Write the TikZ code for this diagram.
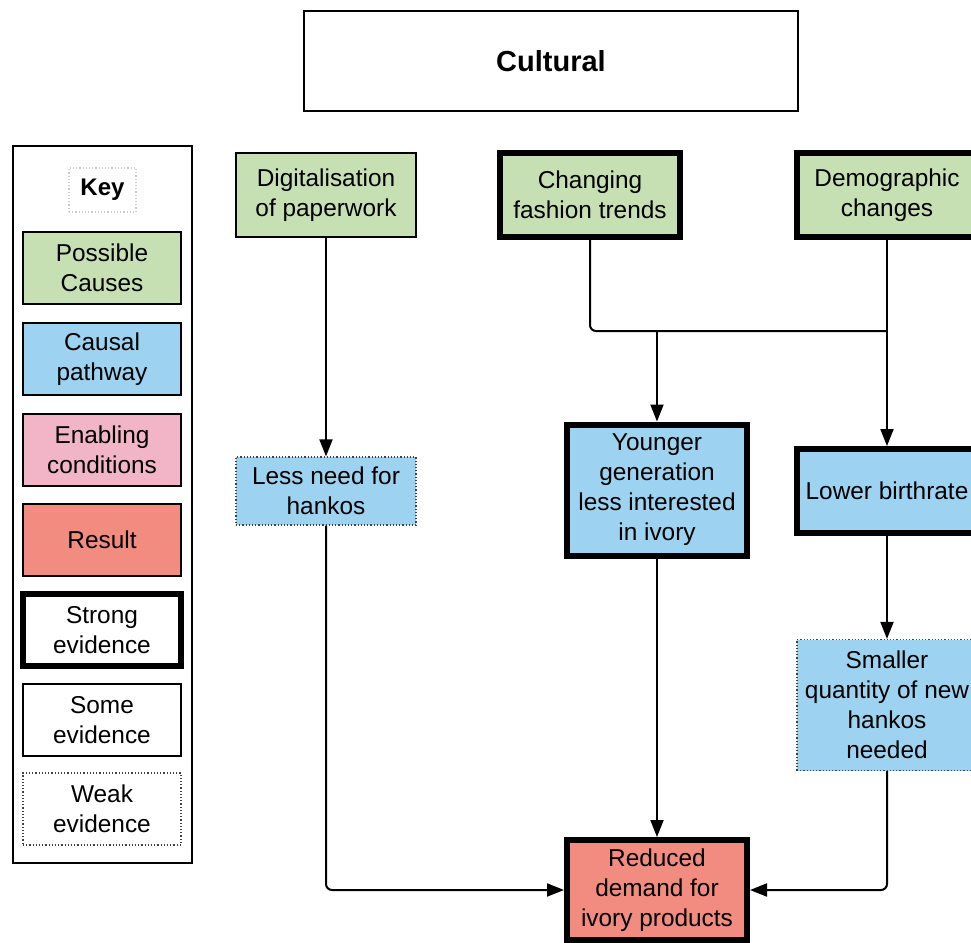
\documentclass[tikz,border=0pt]{standalone}
\usepackage{fontspec}
\setmainfont{Liberation Sans}
\usepackage{xcolor}
\usepackage{tikz}
\usetikzlibrary{arrows.meta}

\definecolor{causegreen}{HTML}{C6E0B4}
\definecolor{pathblue}{HTML}{9DD3F0}
\definecolor{enablepink}{HTML}{F2B5C8}
\definecolor{resultred}{HTML}{F28C80}

\begin{document}
\begin{tikzpicture}[
    x=0.5pt, y=-0.5pt,
    box/.style={draw, line width=1pt, minimum width=90pt, minimum height=42pt, align=center, inner sep=0pt, font=\fontsize{12.2}{15}\selectfont},
    keybox/.style={box, minimum width=79pt, minimum height=36pt},
    cause/.style={fill=causegreen},
    pathway/.style={fill=pathblue},
    enabling/.style={fill=enablepink},
    result/.style={fill=resultred},
    evstrong/.style={line width=3pt},
    evweak/.style={draw=black!75, line width=0.6pt, dash pattern=on 0.6pt off 1pt},
    arrow/.style={-{Triangle[length=8.5pt,width=6.5pt]}, line width=1pt},
    conn/.style={line width=1pt, rounded corners=3pt}
]
\useasboundingbox (0,0) rectangle (971,943);

% Title
\node[box, minimum width=247pt, minimum height=50pt, font=\fontsize{14.5}{17}\selectfont\bfseries] (cultural) at (551,61) {Cultural};

% Key
\node[draw, line width=0.8pt, minimum width=89.5pt, minimum height=358.5pt] (keyframe) at (102.5,504.5) {};
\node[draw=black!20, dash pattern=on 0.6pt off 1pt, line width=0.6pt, minimum width=33.5pt, minimum height=22pt, font=\fontsize{12}{15}\selectfont\bfseries] (keytitle) at (102.5,190) {Key};
\node[keybox, cause] (kcause) at (102,268) {Possible\\Causes};
\node[keybox, pathway] (kpath) at (102,359) {Causal\\pathway};
\node[keybox, enabling] (kenable) at (102,450) {Enabling\\conditions};
\node[keybox, result] (kresult) at (102,540) {Result};
\node[keybox, evstrong] (kstrong) at (102,630) {Strong\\evidence};
\node[keybox] (ksome) at (102,720) {Some\\evidence};
\node[keybox, evweak] (kweak) at (102,809) {Weak\\evidence};

% Possible causes
\node[box, cause] (digital) at (326,195) {Digitalisation\\of paperwork};
\node[box, cause, evstrong] (fashion) at (590,195) {Changing\\fashion trends};
\node[box, cause, evstrong] (demog) at (887,195) {Demographic\\changes};

% Causal pathways
\node[box, pathway, evweak, minimum height=34pt] (lessneed) at (326,491) {Less need for\\hankos};
\node[box, pathway, evstrong, minimum height=65.5pt] (younger) at (657,490) {Younger\\generation\\less interested\\in ivory};
\node[box, pathway, evstrong] (birthrate) at (887,491) {Lower birthrate};
\node[box, pathway, evweak, minimum height=65.5pt] (smaller) at (887,705) {Smaller\\quantity of new\\hankos\\needed};

% Result
\node[box, result, evstrong, minimum height=50pt] (reduced) at (657,890) {Reduced\\demand for\\ivory products};

% Connectors
\coordinate (merge) at (657,331);
\coordinate (bend) at (887,331);
\draw[conn] (fashion.south) |- (bend);
\draw[arrow] (merge) -- (younger.north);
\draw[arrow] (demog.south) -- (birthrate.north);
\draw[arrow] (digital.south) -- (lessneed.north);
\draw[arrow] (birthrate.south) -- (smaller.north);
\draw[arrow] (younger.south) -- (reduced.north);
\draw[arrow, rounded corners=3pt] (lessneed.south) |- (reduced.west);
\draw[arrow, rounded corners=3pt] (smaller.south) |- (reduced.east);

\end{tikzpicture}
\end{document}
